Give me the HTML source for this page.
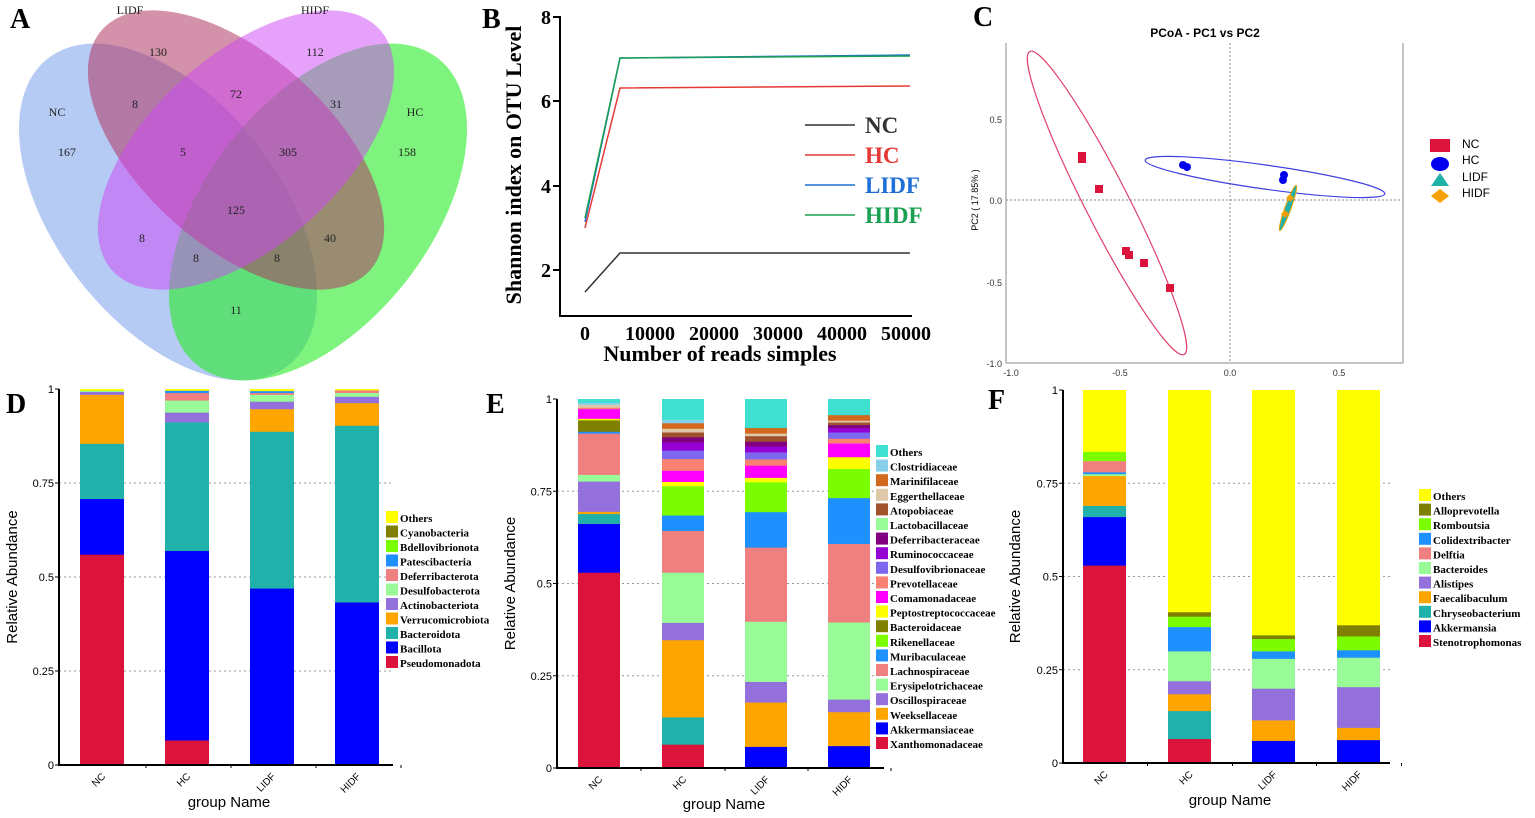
<!DOCTYPE html>
<html><head><meta charset="utf-8"><style>
body{margin:0;background:#fff;}
svg{display:block}
.s{font-family:"Liberation Serif",serif}
.a{font-family:"Liberation Sans",sans-serif}
</style></head><body>
<svg id="g" width="1535" height="818" xmlns="http://www.w3.org/2000/svg">
<!-- Panel letters -->
<g class="s" font-weight="bold" font-size="28" fill="#000">
<text x="10" y="28">A</text><text x="482" y="28">B</text><text x="973" y="26">C</text>
<text x="6" y="413">D</text><text x="486" y="413">E</text><text x="988" y="409">F</text>
</g>
<!-- Venn A -->
<g>
<ellipse cx="168" cy="212" rx="195" ry="112" transform="rotate(52 168 212)" fill="rgb(120,160,235)" fill-opacity="0.55"/>
<ellipse cx="318" cy="212" rx="195" ry="112" transform="rotate(-52 318 212)" fill="rgb(40,235,40)" fill-opacity="0.6"/>
<ellipse cx="236" cy="150" rx="180" ry="95" transform="rotate(42 236 150)" fill="rgb(175,55,100)" fill-opacity="0.55"/>
<ellipse cx="246" cy="150" rx="180" ry="95" transform="rotate(-42 246 150)" fill="rgb(205,70,245)" fill-opacity="0.5"/>
</g>
<g class="s" font-size="12" fill="#222" text-anchor="middle">
<text x="130" y="14">LIDF</text><text x="315" y="14">HIDF</text>
<text x="57" y="116">NC</text><text x="415" y="116">HC</text>
<text x="158" y="56">130</text><text x="315" y="56">112</text>
<text x="67" y="156">167</text><text x="407" y="156">158</text>
<text x="135" y="108">8</text><text x="236" y="98">72</text><text x="336" y="108">31</text>
<text x="183" y="156">5</text><text x="288" y="156">305</text><text x="236" y="214">125</text>
<text x="142" y="242">8</text><text x="330" y="242">40</text>
<text x="196" y="262">8</text><text x="277" y="262">8</text><text x="236" y="314">11</text>
</g>
<!-- Panel B -->
<g stroke="#000" stroke-width="2" fill="none">
<line x1="560" y1="16" x2="560" y2="317"/><line x1="559" y1="316" x2="912" y2="316"/>
<line x1="553" y1="270" x2="560" y2="270"/><line x1="553" y1="186" x2="560" y2="186"/>
<line x1="553" y1="101" x2="560" y2="101"/><line x1="553" y1="17" x2="560" y2="17"/>
</g>
<g class="s" font-weight="bold" font-size="20" text-anchor="end">
<text x="551" y="277">2</text><text x="551" y="193">4</text><text x="551" y="108">6</text><text x="551" y="24">8</text>
</g>
<g class="s" font-weight="bold" font-size="20" text-anchor="middle">
<text x="585" y="340">0</text><text x="650" y="340">10000</text><text x="714" y="340">20000</text><text x="778" y="340">30000</text><text x="842" y="340">40000</text><text x="906" y="340">50000</text>
</g>
<text class="s" font-weight="bold" font-size="22" x="720" y="361" text-anchor="middle">Number of reads simples</text>
<text class="s" font-weight="bold" font-size="22" transform="translate(521,165) rotate(-90)" text-anchor="middle">Shannon index on OTU Level</text>
<g fill="none" stroke-width="1.5">
<polyline points="585,292 620,253 910,253" stroke="#333"/>
<polyline points="585,228 620,88 910,86" stroke="#e53935"/>
<polyline points="585,222 620,58 910,55" stroke="#1e6fd6"/>
<polyline points="585,218 620,58 910,56" stroke="#1aa050"/>
<line x1="805" y1="125" x2="855" y2="125" stroke="#333"/>
<line x1="805" y1="155" x2="855" y2="155" stroke="#e53935"/>
<line x1="805" y1="185" x2="855" y2="185" stroke="#1e6fd6"/>
<line x1="805" y1="215" x2="855" y2="215" stroke="#1aa050"/>
</g>
<g class="s" font-weight="bold" font-size="23">
<text x="865" y="133" fill="#333">NC</text><text x="865" y="163" fill="#e53935">HC</text>
<text x="865" y="193" fill="#1e6fd6">LIDF</text><text x="865" y="223" fill="#1aa050">HIDF</text>
</g>
<!-- Panel C -->
<text class="a" font-weight="bold" font-size="12" x="1205" y="37" text-anchor="middle">PCoA - PC1 vs PC2</text>
<g stroke="#888" stroke-width="1" fill="none">
<line x1="1006" y1="43" x2="1006" y2="363"/><line x1="1006" y1="363" x2="1403" y2="363"/><line x1="1403" y1="43" x2="1403" y2="363"/>
<line x1="1230" y1="43" x2="1230" y2="363" stroke-dasharray="2,2"/>
<line x1="1006" y1="200" x2="1403" y2="200" stroke-dasharray="2,2"/>
</g>
<g class="a" font-size="9" fill="#333" text-anchor="end">
<text x="1002" y="123">0.5</text><text x="1002" y="204">0.0</text><text x="1002" y="286">-0.5</text><text x="1002" y="367">-1.0</text>
</g>
<g class="a" font-size="9" fill="#333" text-anchor="middle">
<text x="1011" y="376">-1.0</text><text x="1120" y="376">-0.5</text><text x="1230" y="376">0.0</text><text x="1339" y="376">0.5</text>
</g>
<text class="a" font-size="9" transform="translate(978,200) rotate(-90)" text-anchor="middle">PC2 ( 17.85% )</text>
<ellipse cx="1107" cy="203" rx="170" ry="22" transform="rotate(63 1107 203)" fill="none" stroke="#e0406a" stroke-width="1.2"/>
<ellipse cx="1265" cy="177" rx="121" ry="12" transform="rotate(8 1265 177)" fill="none" stroke="#4040e0" stroke-width="1.2"/>
<ellipse cx="1288" cy="208" rx="24" ry="3" transform="rotate(-70 1288 208)" fill="#20b2aa" stroke="#f0a000"/>
<g fill="#dc143c">
<rect x="1078" y="152" width="8" height="8"/><rect x="1078" y="155" width="8" height="8"/><rect x="1095" y="185" width="8" height="8"/>
<rect x="1122" y="247" width="8" height="8"/><rect x="1125" y="251" width="8" height="8"/><rect x="1140" y="259" width="8" height="8"/><rect x="1166" y="284" width="8" height="8"/>
</g>
<g fill="#0000ee"><circle cx="1183" cy="165" r="4"/><circle cx="1187" cy="167" r="4"/><circle cx="1284" cy="175" r="4"/><circle cx="1283" cy="180" r="4"/></g>
<g fill="#f5a000"><path d="M1290 194l4 4-4 4-4-4z"/><path d="M1285 210l4 4-4 4-4-4z"/></g>
<g>
<rect x="1430" y="139" width="20" height="13" fill="#dc143c"/>
<ellipse cx="1440" cy="164" rx="9" ry="7" fill="#0000ee"/>
<path d="M1431 186l9-13 9 13z" fill="#20b2aa"/>
<path d="M1440 189l9 7-9 7-9-7z" fill="#f5a000"/>
</g>
<g class="a" font-size="12"><text x="1462" y="148">NC</text><text x="1462" y="164">HC</text><text x="1462" y="181">LIDF</text><text x="1462" y="197">HIDF</text></g>
<g id="bars"></g>
</svg>
<script>
var NS="http://www.w3.org/2000/svg",G=document.getElementById("bars");
function el(t,a,txt){var e=document.createElementNS(NS,t);for(var k in a)e.setAttribute(k,a[k]);if(txt)e.textContent=txt;G.appendChild(e);return e;}
var C={cr:"#dc143c",bl:"#0000ff",te:"#20b2aa",or:"#ffa500",mp:"#9370db",pg:"#98fb98",lc:"#f08080",db:"#1e90ff",lg:"#7cfc00",ol:"#808000",ye:"#ffff00",mg:"#ff00ff",sa:"#fa8072",sb:"#7b68ee",dv:"#9400d3",pu:"#800080",si:"#a0522d",ta:"#dec8a8",ch:"#d2691e",sk:"#87ceeb",tu:"#40e0d0"};
function panel(p){
 var y1=p.y1,y0=p.y0,H=y0-y1,ax=p.ax;
 // grid
 [0.25,0.5,0.75].forEach(function(v){var y=y0-v*H;el("line",{x1:ax,x2:p.xr,y1:y,y2:y,stroke:"#999","stroke-dasharray":"2,3"});});
 p.bars.forEach(function(b,i){var x=p.bx[i],prev=0;b.forEach(function(s){var top=s[1];el("rect",{x:x,y:y0-top*H,width:p.bw,height:(top-prev)*H+0.3,fill:C[s[0]]});prev=top;});});
 el("line",{x1:ax,x2:ax,y1:y1,y2:y0+1,stroke:"#000","stroke-width":2});
 el("line",{x1:ax,x2:p.xr,y1:y0,y2:y0,stroke:"#000","stroke-width":2});
 [["1",1],["0.75",.75],["0.5",.5],["0.25",.25],["0",0]].forEach(function(t){var y=y0-t[1]*H;el("line",{x1:ax-4,x2:ax,y1:y,y2:y,stroke:"#000"});el("text",{x:ax-5,y:y+4,"font-size":11,"text-anchor":"end","font-family":"Liberation Sans"},t[0]);});
 ["NC","HC","LIDF","HIDF"].forEach(function(n,i){var cx=p.bx[i]+p.bw/2;el("line",{x1:cx+p.bw,x2:cx+p.bw,y1:y0,y2:y0+3,stroke:"#000"});el("text",{transform:"translate("+(cx+4)+","+(y0+12)+") rotate(-45)","font-size":10,"text-anchor":"end","font-family":"Liberation Sans"},n);});
 el("text",{x:p.gx,y:p.gy,"font-size":15,"text-anchor":"middle","font-family":"Liberation Sans"},"group Name");
 el("text",{transform:"translate("+p.rx+","+(y0-H/2)+") rotate(-90)","font-size":15,"text-anchor":"middle","font-family":"Liberation Sans"},"Relative Abundance");
 p.leg.forEach(function(l,i){var y=p.ly+i*p.ls;if(l[1])el("rect",{x:p.lx,y:y-10,width:12,height:12,fill:C[l[1]]});el("text",{x:p.lx+14,y:y+1,"font-size":11,"font-weight":"bold","font-family":"Liberation Serif"},l[0]);});
}
panel({y1:389,y0:765,ax:59,xr:393,bx:[80,165,250,335],bw:44,gx:229,gy:807,rx:17,lx:386,ly:521,ls:14.5,
bars:[
[["cr",.56],["bl",.708],["te",.855],["or",.985],["mp",.993],["pg",.996],["ye",1]],
[["cr",.066],["bl",.57],["te",.912],["mp",.938],["pg",.97],["lc",.99],["db",.996],["ye",1]],
[["bl",.47],["te",.887],["or",.947],["mp",.967],["pg",.985],["lc",.99],["db",.995],["ye",1]],
[["bl",.433],["te",.903],["or",.963],["mp",.98],["pg",.99],["lc",.997],["ye",1]]],
leg:[["Others","ye"],["Cyanobacteria","ol"],["Bdellovibrionota","lg"],["Patescibacteria","db"],["Deferribacterota","lc"],["Desulfobacterota","pg"],["Actinobacteriota","mp"],["Verrucomicrobiota","or"],["Bacteroidota","te"],["Bacillota","bl"],["Pseudomonadota","cr"]]});
panel({y1:399,y0:768,ax:557,xr:884,bx:[578,662,745,828],bw:42,gx:724,gy:809,rx:515,lx:876,ly:455,ls:14.6,
bars:[
[["cr",.53],["bl",.662],["te",.689],["or",.695],["mp",.777],["pg",.795],["lc",.907],["db",.912],["ol",.943],["ye",.947],["mg",.973],["sa",.977],["ta",.985],["sk",.99],["tu",1]],
[["cr",.064],["te",.138],["or",.347],["mp",.394],["pg",.53],["lc",.643],["db",.685],["lg",.764],["ye",.776],["mg",.806],["sa",.838],["sb",.861],["dv",.883],["pu",.897],["si",.91],["ta",.92],["ch",.935],["sk",.944],["tu",1]],
[["bl",.058],["or",.178],["mp",.234],["pg",.397],["lc",.598],["db",.694],["lg",.775],["ye",.787],["mg",.82],["sa",.837],["sb",.856],["dv",.872],["pu",.885],["si",.9],["ta",.907],["ch",.922],["tu",1]],
[["bl",.06],["or",.152],["mp",.186],["pg",.395],["lc",.608],["db",.732],["lg",.811],["ye",.843],["mg",.88],["sa",.893],["sb",.91],["dv",.922],["pu",.93],["si",.937],["ta",.942],["ch",.957],["tu",1]]],
leg:[["Others","tu"],["Clostridiaceae","sk"],["Marinifilaceae","ch"],["Eggerthellaceae","ta"],["Atopobiaceae","si"],["Lactobacillaceae","pg"],["Deferribacteraceae","pu"],["Ruminococcaceae","dv"],["Desulfovibrionaceae","sb"],["Prevotellaceae","sa"],["Comamonadaceae","mg"],["Peptostreptococcaceae","ye"],["Bacteroidaceae","ol"],["Rikenellaceae","lg"],["Muribaculaceae","db"],["Lachnospiraceae","lc"],["Erysipelotrichaceae","pg"],["Oscillospiraceae","mp"],["Weeksellaceae","or"],["Akkermansiaceae","bl"],["Xanthomonadaceae","cr"]]});
panel({y1:390,y0:763,ax:1063,xr:1390,bx:[1083,1168,1252,1337],bw:43,gx:1230,gy:805,rx:1020,lx:1419,ly:499,ls:14.6,
bars:[
[["cr",.53],["bl",.66],["te",.69],["or",.77],["pg",.775],["db",.78],["lc",.81],["lg",.835],["ye",1]],
[["cr",.065],["te",.14],["or",.185],["mp",.22],["pg",.3],["db",.365],["lg",.393],["ol",.405],["ye",1]],
[["bl",.06],["or",.115],["mp",.2],["pg",.28],["db",.3],["lg",.333],["ol",.343],["ye",1]],
[["bl",.062],["or",.095],["mp",.204],["pg",.283],["db",.303],["lg",.34],["ol",.37],["ye",1]]],
leg:[["Others","ye"],["Alloprevotella","ol"],["Romboutsia","lg"],["Colidextribacter","db"],["Delftia","lc"],["Bacteroides","pg"],["Alistipes","mp"],["Faecalibaculum","or"],["Chryseobacterium","te"],["Akkermansia","bl"],["Stenotrophomonas","cr"]]});
</script>
</body></html>
